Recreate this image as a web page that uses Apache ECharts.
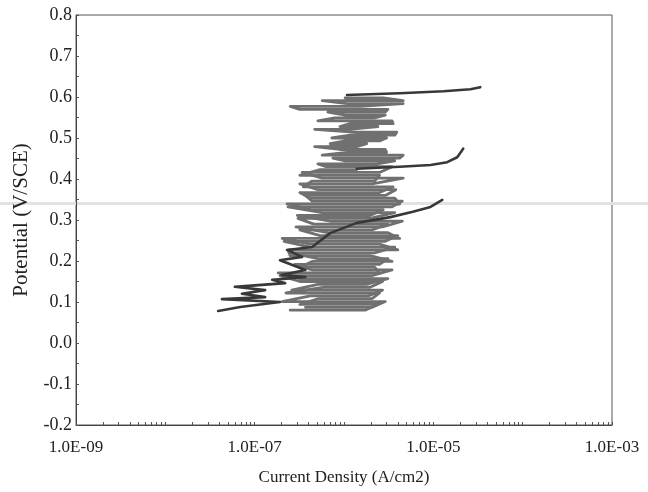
<!DOCTYPE html>
<html>
<head>
<meta charset="utf-8">
<script src="https://cdn.jsdelivr.net/npm/echarts@6/dist/echarts.min.js"></script>
<style>html,body{margin:0;padding:0;background:#fff;}#c{width:648px;height:492px;}</style>
</head>
<body>
<div id="c"></div>
<script>
// ---- data: noisy passive-region sweeps, one horizontal stroke per potential level ----
// stroke potential (V/SCE), left and right ends of each stroke (A/cm2)
const noiseA_potential = [0.080,0.094,0.108,0.122,0.136,0.150,0.164,0.178,0.192,0.206,0.220,0.234,0.248,0.262,0.276,0.290,0.304,0.318,0.332,0.346,0.360,0.374,0.388,0.402,0.416,0.430,
  0.437,0.444,0.451,0.458,0.465,0.472,0.479,0.486,0.493,0.500,0.507,0.514,0.521,0.528,0.535,0.542,0.549,0.556,0.563,0.570,0.577,0.584,0.591,0.598];
const noiseA_left  = [2.5e-7,3.2e-7,5.1e-7,2.24e-7,6.1e-7,3.2e-7,1.92e-7,4.4e-7,2.8e-7,5.1e-7,2.5e-7,4.2e-7,2.13e-7,5.4e-7,3.2e-7,4.6e-7,3.05e-7,5.7e-7,2.36e-7,4.4e-7,3.7e-7,5.1e-7,3.2e-7,5.7e-7,3.4e-7,6.3e-7,
  5.1e-7,1.03e-6,7.5e-7,5.7e-7,1.08e-6,9.0e-7,4.7e-7,7.0e-7,1.03e-6,7.3e-7,1.17e-6,1.39e-6,4.7e-7,9.0e-7,1.17e-6,5.1e-7,7.9e-7,1.03e-6,6.6e-7,3.2e-7,2.5e-7,1.08e-6,5.7e-7,1.03e-6];
const noiseA_right = [1.72e-6,2.4e-6,2.06e-6,2.5e-6,1.96e-6,2.7e-6,2.06e-6,3.45e-6,2.5e-6,3.1e-6,2.2e-6,3.7e-6,2.9e-6,4.0e-6,2.06e-6,3.1e-6,1.96e-6,3.7e-6,3.45e-6,4.5e-6,2.9e-6,3.8e-6,2.06e-6,4.6e-6,2.5e-6,3.45e-6,
  2.35e-6,3.7e-6,4.2e-6,4.6e-6,3.0e-6,2.9e-6,1.39e-6,1.8e-6,2.5e-6,3.0e-6,3.7e-6,3.9e-6,1.17e-6,2.4e-6,3.55e-6,3.45e-6,2.2e-6,2.9e-6,2.9e-6,3.1e-6,1.51e-6,4.6e-6,4.6e-6,2.75e-6];
const tailA_current   = [1.08e-6,4.2e-6,1.3e-5,2.6e-5,3.35e-5];
const tailA_potential = [0.605,0.609,0.614,0.619,0.624];

const noiseB_potential = [0.087,0.101,0.115,0.129,0.143,0.157,0.171,0.185,0.199,0.213,0.227,0.241,0.255,0.269,0.283,0.297,0.311,0.325,0.339,0.353,0.367,0.381,0.395,0.409,0.423];
const noiseB_left  = [3.7e-7,2.03e-7,4.2e-7,2.6e-7,5.1e-7,3.2e-7,1.83e-7,3.2e-7,4.4e-7,2.5e-7,2.36e-7,4.2e-7,2.03e-7,6.6e-7,2.9e-7,7.0e-7,3.0e-7,4.4e-7,2.3e-7,4.2e-7,3.2e-7,3.5e-7,4.4e-7,3.2e-7,5.4e-7];
const noiseB_right = [2.06e-6,2.9e-6,1.87e-6,2.7e-6,1.77e-6,3.1e-6,2.5e-6,2.2e-6,3.45e-6,1.96e-6,4.0e-6,2.5e-6,4.2e-6,3.1e-6,2.7e-6,4.5e-6,1.96e-6,2.75e-6,4.2e-6,3.7e-6,2.5e-6,3.55e-6,2.2e-6,2.5e-6,1.39e-6];
const tailB_current   = [1.39e-6,4.2e-6,9.3e-6,1.43e-5,1.85e-5,2.16e-5];
const tailB_potential = [0.425,0.430,0.434,0.441,0.453,0.474];

const curveC_current   = [3.9e-8,6.9e-8,1.92e-7,4.3e-8,1.31e-7,7.2e-8,1.31e-7,6.0e-8,2.2e-7,1.57e-7,3.7e-7,2.0e-7,3.7e-7,1.92e-7,3.4e-7,2.3e-7,4.4e-7,7.0e-7,1.39e-6,3.3e-6,5.9e-6,9.3e-6,1.26e-5];
const curveC_potential = [0.078,0.088,0.100,0.107,0.112,0.120,0.129,0.137,0.146,0.154,0.161,0.166,0.178,0.202,0.210,0.227,0.234,0.268,0.293,0.307,0.320,0.332,0.349];

const xLabelValues = [1e-9,1e-7,1e-5,1e-3];
const xTickMantissas = [1,2,3,4,5,6,7,8,9];
const xTickDecades = [-9,-8,-7,-6,-5,-4];
const yMin = -0.2, yMax = 0.8, yStep = 0.1;
const xTitle = 'Current Density (A/cm2)';
const yTitle = 'Potential (V/SCE)';

// ---- helpers ----
const xTickValues = [];
xTickDecades.forEach(e => xTickMantissas.forEach(m => xTickValues.push(m * Math.pow(10, e))));
xTickValues.push(1e-3);

function pairs(xs, ys) { return xs.map((x, i) => [x, ys[i]]); }
// zig-zag path through the strokes: left->right, then right->left, ...
function strokes(E, L, R) {
  const out = [];
  E.forEach((e, k) => {
    if (k % 2 === 0) { out.push([L[k], e]); out.push([R[k], e]); }
    else { out.push([R[k], e]); out.push([L[k], e]); }
  });
  return out;
}
function fmtExp(v) {
  const e = Math.round(Math.log10(v));
  return '1.0E' + (e < 0 ? '-' : '+') + String(Math.abs(e)).padStart(2, '0');
}

const FONT = 'Liberation Serif';
const chart = echarts.init(document.getElementById('c'), null, {renderer: 'canvas'});
const grayStyle = {color: '#707070', width: 2.8, join: 'round', cap: 'round'};
const darkStyle = {color: '#383838', width: 2.6, join: 'round', cap: 'round'};
function lineSeries(data, style, z) {
  return {type: 'line', data: data, showSymbol: false, symbol: 'none', lineStyle: style, itemStyle: {color: style.color}, z: z, animation: false, silent: true};
}

chart.setOption({
  animation: false,
  backgroundColor: '#ffffff',
  textStyle: {fontFamily: FONT},
  graphic: [{type: 'rect', silent: true, z: 0, shape: {x: 0, y: 202, width: 648, height: 3}, style: {fill: '#e2e2e2'}}],
  grid: {left: 76, right: 36, top: 15, bottom: 67, show: true, borderColor: '#555', borderWidth: 1, backgroundColor: 'transparent'},
  xAxis: {
    type: 'log', logBase: 10, min: 1e-9, max: 1e-3,
    name: xTitle, nameLocation: 'middle', nameGap: 44,
    nameTextStyle: {fontFamily: FONT, fontSize: 17, color: '#222'},
    axisLine: {show: true, onZero: false, lineStyle: {color: '#444', width: 1}},
    axisTick: {show: true, inside: true, length: 3, customValues: xTickValues, lineStyle: {color: '#555'}},
    axisLabel: {show: true, customValues: xLabelValues, formatter: fmtExp, margin: 14, fontFamily: FONT, fontSize: 17, color: '#222'},
    splitLine: {show: false}, minorTick: {show: false}, minorSplitLine: {show: false}
  },
  yAxis: {
    type: 'value', min: yMin, max: yMax, interval: yStep,
    name: yTitle, nameLocation: 'middle', nameGap: 44, nameRotate: 90,
    nameTextStyle: {fontFamily: FONT, fontSize: 21, color: '#222'},
    axisLine: {show: true, onZero: false, lineStyle: {color: '#444', width: 1}},
    axisTick: {show: true, inside: true, length: 3, lineStyle: {color: '#555'}},
    minorTick: {show: true, splitNumber: 2, length: 3, lineStyle: {color: '#555'}},
    axisLabel: {formatter: v => v.toFixed(1), margin: 4, fontFamily: FONT, fontSize: 18, color: '#222'},
    splitLine: {show: false}
  },
  series: [
    lineSeries(strokes(noiseA_potential, noiseA_left, noiseA_right), grayStyle, 2),
    lineSeries(strokes(noiseB_potential, noiseB_left, noiseB_right), grayStyle, 2),
    lineSeries(pairs(tailA_current, tailA_potential), darkStyle, 3),
    lineSeries(pairs(tailB_current, tailB_potential), darkStyle, 3),
    lineSeries(pairs(curveC_current, curveC_potential), darkStyle, 4)
  ]
});
</script>
</body>
</html>
